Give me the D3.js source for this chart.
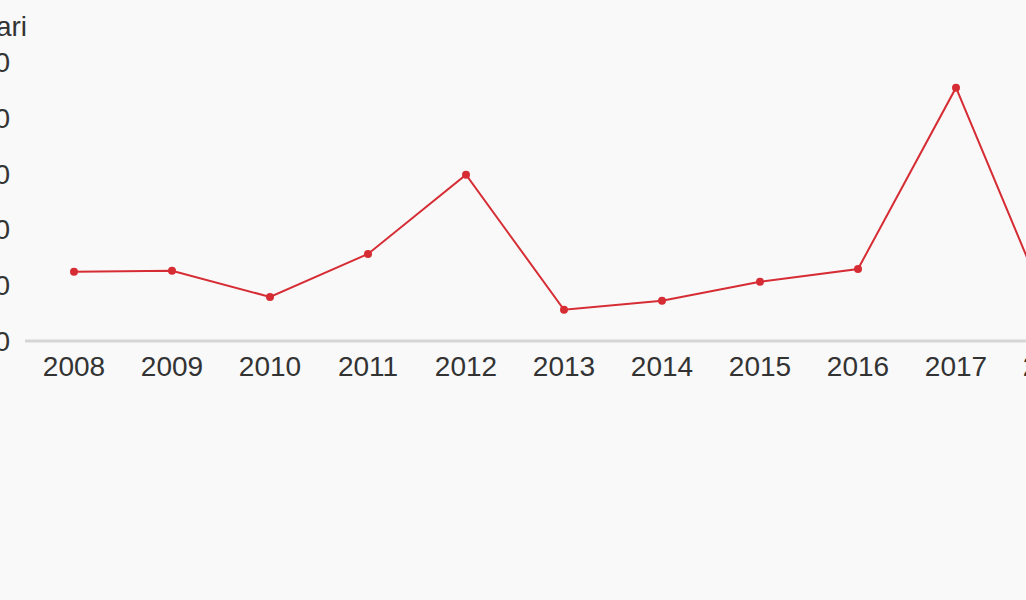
<!DOCTYPE html>
<html>
<head>
<meta charset="utf-8">
<script src="https://cdn.jsdelivr.net/npm/d3@7"></script>
<style>
  html, body { margin: 0; padding: 0; background: #f9f9f9; }
  svg { display: block; font-family: "Liberation Sans", Arial, sans-serif; }
</style>
</head>
<body>
<svg id="chart" width="1026" height="600"></svg>
<script>
// data
const years = [2008, 2009, 2010, 2011, 2012, 2013, 2014, 2015, 2016, 2017, 2018];
const values = [12.4, 12.6, 7.9, 15.6, 29.8, 5.6, 7.2, 10.6, 12.9, 45.4, 3.4];
const yTicks = [0, 10, 20, 30, 40, 50];
const yTitle = "Jumlah hari";

const svg = d3.select("#chart");
const width = 1026, height = 600;

// scales
const x = d3.scaleLinear().domain([2008, 2018]).range([74, 1054]);
const y = d3.scaleLinear().domain([0, 50]).range([341, 62]);

svg.append("rect").attr("width", width).attr("height", height).attr("fill", "#f9f9f9");

// title of y axis (mostly cut off on the left)
svg.append("text")
  .attr("x", 27).attr("y", 36)
  .attr("text-anchor", "end")
  .attr("font-size", 28)
  .attr("fill", "#333")
  .text(yTitle);

// y labels
svg.append("g").selectAll("text")
  .data(yTicks)
  .join("text")
  .attr("x", 10)
  .attr("y", d => y(d))
  .attr("dy", "0.36em")
  .attr("text-anchor", "end")
  .attr("font-size", 28)
  .attr("fill", "#333")
  .text(d => d);

// baseline
svg.append("line")
  .attr("x1", 25).attr("x2", 1100)
  .attr("y1", y(0)).attr("y2", y(0))
  .attr("stroke", "#d6d6d6").attr("stroke-width", 3);

// x labels
svg.append("g").selectAll("text")
  .data(years)
  .join("text")
  .attr("x", d => x(d))
  .attr("y", 376)
  .attr("text-anchor", "middle")
  .attr("font-size", 28)
  .attr("fill", "#333")
  .text(d => d);

const pts = years.map((yr, i) => ({ yr, v: values[i] }));

// line
svg.append("path")
  .datum(pts)
  .attr("fill", "none")
  .attr("stroke", "#d62d35")
  .attr("stroke-width", 2)
  .attr("d", d3.line().x(d => x(d.yr)).y(d => y(d.v)));

// dots
svg.append("g").selectAll("circle")
  .data(pts)
  .join("circle")
  .attr("cx", d => x(d.yr))
  .attr("cy", d => y(d.v))
  .attr("r", 4)
  .attr("fill", "#d62d35");
</script>
</body>
</html>
